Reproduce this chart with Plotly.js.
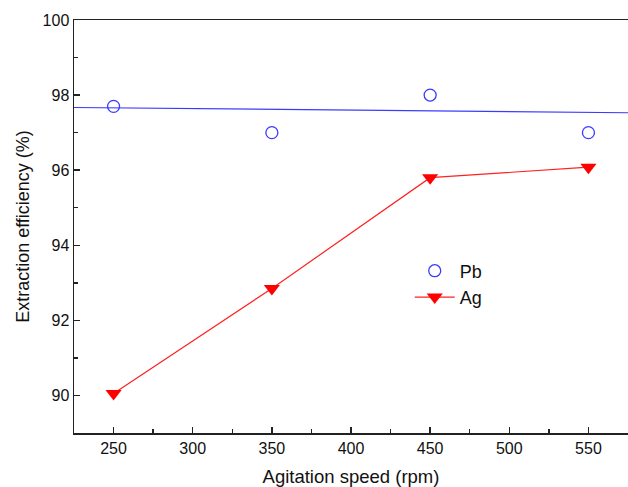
<!DOCTYPE html>
<html>
<head>
<meta charset="utf-8">
<script src="https://cdn.plot.ly/plotly-3.0.1.min.js"></script>
<style>html,body{margin:0;padding:0;background:#fff;}#chart{width:628px;height:487px;}</style>
</head>
<body>
<div id="chart"></div>
<script>
const speed = [250, 350, 450, 550];
const pbValues = [97.7, 97.0, 98.0, 97.0];
const agValues = [90.05, 92.85, 95.8, 96.08];
const pbFitX = [225, 575];
const pbFitY = [97.67, 97.53];
const xTickVals = [250, 300, 350, 400, 450, 500, 550];
const yTickVals = [90, 92, 94, 96, 98, 100];

const traces = [
  {x: pbFitX, y: pbFitY, mode: 'lines', line: {color: '#3b3bff', width: 1.2}, showlegend: false, hoverinfo: 'skip'},
  {x: speed, y: pbValues, name: 'Pb', mode: 'markers',
   marker: {symbol: 'circle-open', size: 12, color: '#3b3bff', line: {width: 1.3, color: '#3b3bff'}}},
  {x: speed, y: agValues, name: 'Ag', mode: 'lines+markers',
   line: {color: '#ff2020', width: 1.2},
   marker: {symbol: 'triangle-down', size: 14, color: '#ff0000'}}
];

const layout = {
  width: 628, height: 487,
  margin: {l: 74, r: 0, t: 20, b: 54},
  paper_bgcolor: '#fff', plot_bgcolor: '#fff',
  font: {family: 'Liberation Sans, Arial, sans-serif', color: '#111'},
  showlegend: true,
  legend: {x: 0.606, y: 0.437, xanchor: 'left', yanchor: 'top', bgcolor: 'rgba(0,0,0,0)',
           font: {size: 18, color: '#111'}, tracegroupgap: 0, itemwidth: 40},
  xaxis: {
    range: [225, 575], tickmode: 'array', tickvals: xTickVals, ticktext: xTickVals.map(String),
    ticks: 'inside', ticklen: 6, tickwidth: 1.5, tickcolor: '#222',
    minor: {dtick: 50, tick0: 275, ticks: 'inside', ticklen: 4, tickwidth: 1.5, tickcolor: '#222'},
    showline: true, linecolor: '#222', linewidth: 1.5, mirror: true,
    showgrid: false, zeroline: false,
    tickfont: {size: 16, color: '#111'},
    title: {text: 'Agitation speed (rpm)', font: {size: 18.5, color: '#111'}, standoff: 20}
  },
  yaxis: {
    range: [89, 100], tickmode: 'array', tickvals: yTickVals, ticktext: yTickVals.map(String),
    ticks: 'inside', ticklen: 6, tickwidth: 1.5, tickcolor: '#222',
    minor: {dtick: 2, tick0: 91, ticks: 'inside', ticklen: 4, tickwidth: 1.5, tickcolor: '#222'},
    showline: true, linecolor: '#222', linewidth: 1.5, mirror: false,
    showgrid: false, zeroline: false,
    tickfont: {size: 16, color: '#111'},
    title: {text: 'Extraction efficiency (%)', font: {size: 18, color: '#111'}, standoff: 8}
  }
};

Plotly.newPlot('chart', traces, layout, {displayModeBar: false, staticPlot: true});
</script>
</body>
</html>
